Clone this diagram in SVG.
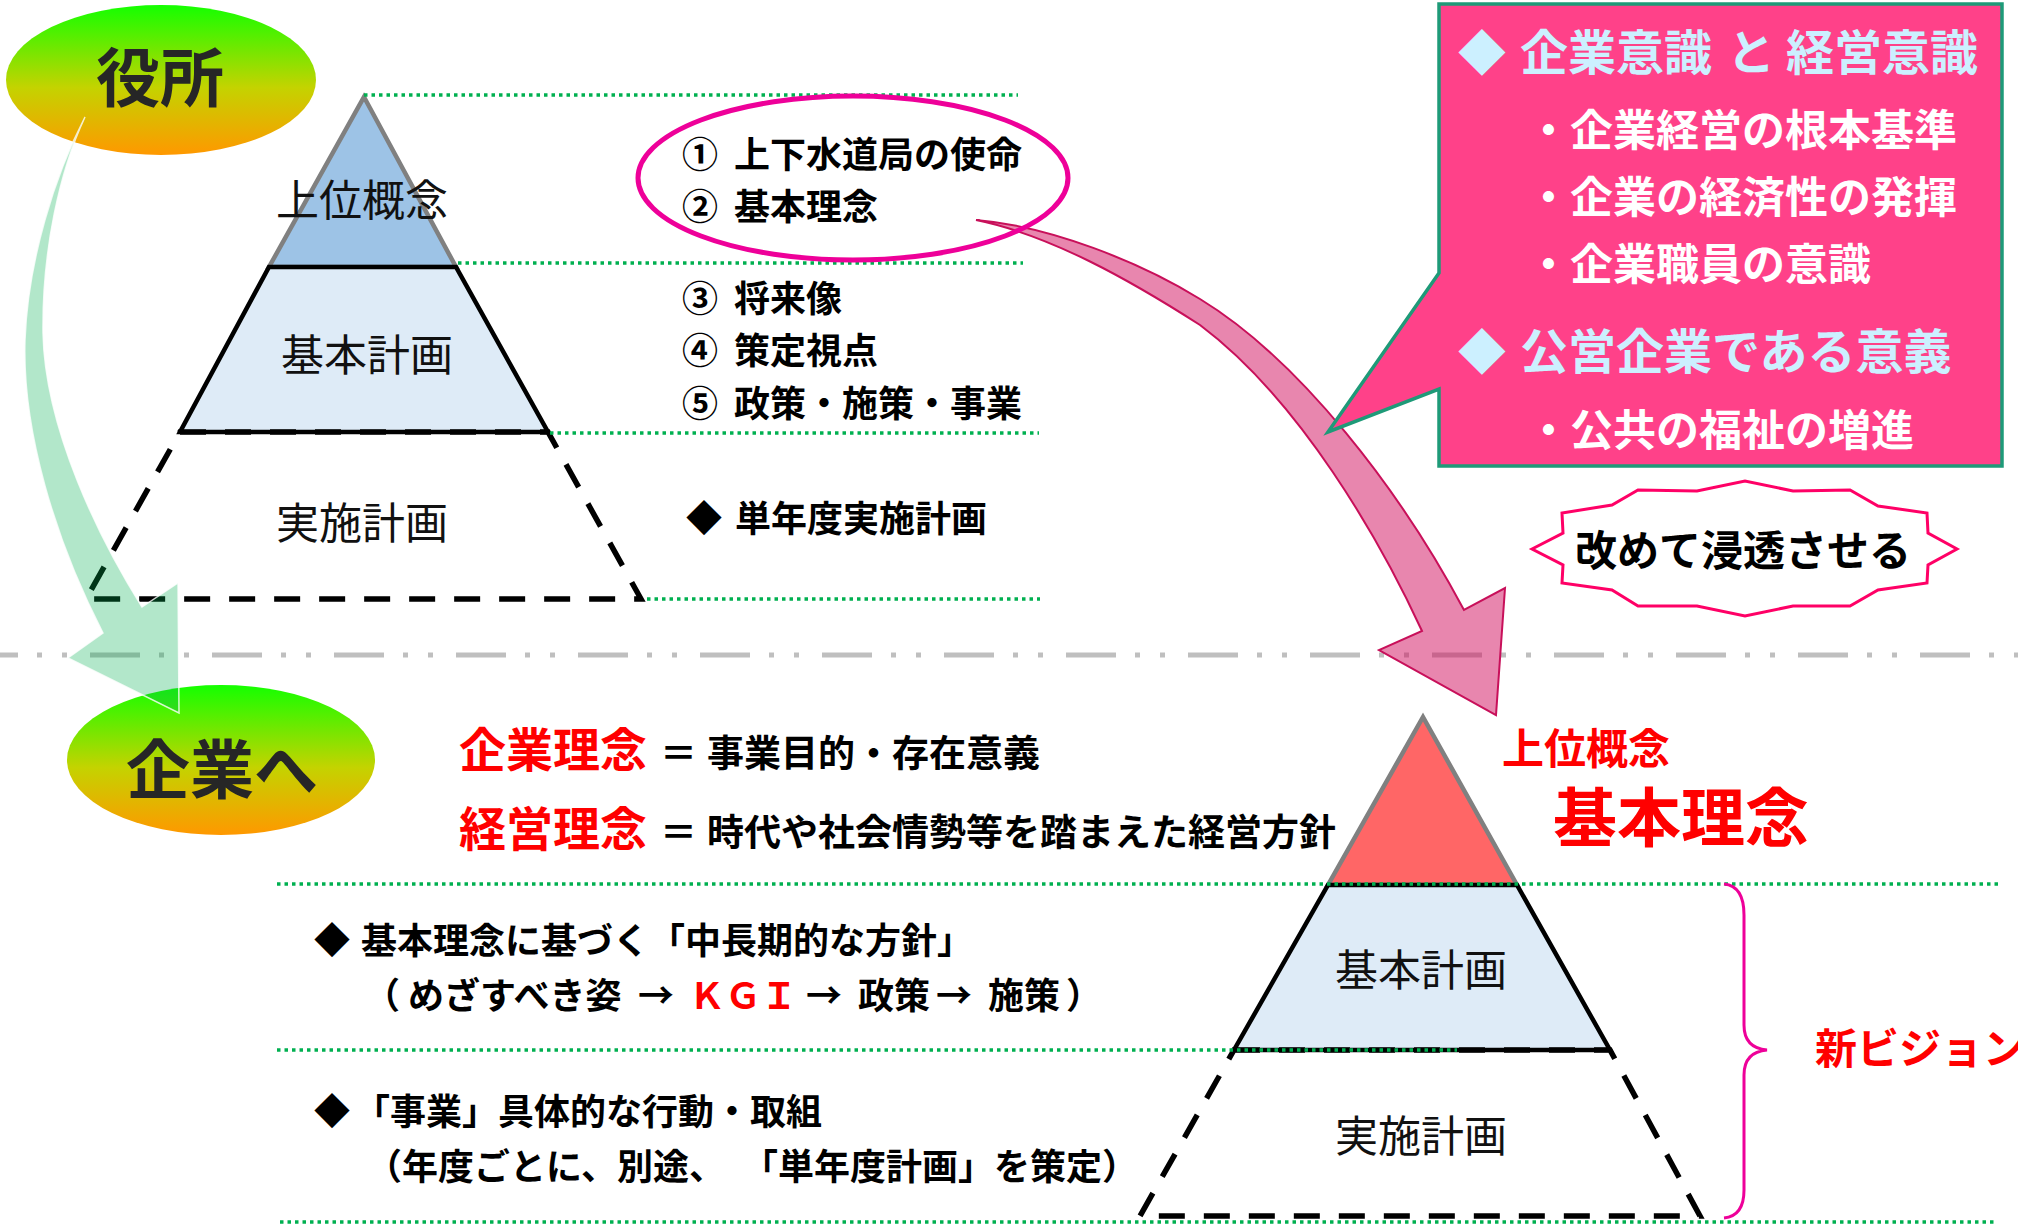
<svg xmlns="http://www.w3.org/2000/svg" width="2018" height="1225" viewBox="0 0 2018 1225">
<defs>
<linearGradient id="gEll" x1="0" y1="0" x2="0" y2="1">
<stop offset="0" stop-color="#14FF00"/>
<stop offset="0.55" stop-color="#C4D300"/>
<stop offset="1" stop-color="#FF9800"/>
</linearGradient>
<style>
.jp{font-family:"Noto Sans CJK JP","Noto Sans CJK SC",sans-serif}
.b{font-weight:700}
.dot{stroke:#00B050;stroke-width:3.5;stroke-dasharray:3.5 4;fill:none}
.tri{stroke:#808080;stroke-width:4.5;stroke-linejoin:miter}
.mid{fill:#DEEBF7;stroke:#000;stroke-width:4.5}
.low{fill:none;stroke:#000;stroke-width:5.5;stroke-dasharray:26 19}
.lbl{font-size:43px;fill:#111;text-anchor:middle}
.li{font-size:36px;fill:#000}
.cb{font-size:48px;fill:#CCF0FF}
.cw{font-size:43px;fill:#FFFFFF}
.red{fill:#FF0000}
</style>
</defs>
<rect width="2018" height="1225" fill="#FFFFFF"/>

<g id="pyramid-top">
<polygon class="tri" points="364,97 456,267 269,267" fill="#9DC3E6"/>
<polygon class="mid" points="269,267 456,267 548,432 180,432"/>
<polygon class="low" points="180,432 548,432 641,599 86,599"/>
<text class="jp lbl" x="362" y="216">上位概念</text>
<text class="jp lbl" x="367" y="371">基本計画</text>
<text class="jp lbl" x="362" y="539">実施計画</text>
</g>

<g id="pyramid-bottom">
<polygon class="tri" points="1423,717 1517,885 1328,885" fill="#FF6666"/>
<polygon class="mid" points="1328,885 1517,885 1610,1050 1234,1050"/>
<polygon class="low" points="1234,1050 1610,1050 1700,1216 1140,1216"/>
<text class="jp lbl" x="1421" y="986">基本計画</text>
<text class="jp lbl" x="1421" y="1152">実施計画</text>
</g>

<g id="guides">
<line class="dot" x1="364" y1="95" x2="1018" y2="95"/>
<line class="dot" x1="458" y1="263" x2="1023" y2="263"/>
<line class="dot" x1="550" y1="433" x2="1039" y2="433"/>
<line class="dot" x1="647" y1="599" x2="1040" y2="599"/>
<line class="dot" x1="277" y1="884" x2="2002" y2="884"/>
<line class="dot" x1="277" y1="1050" x2="1457" y2="1050"/>
<line class="dot" x1="280" y1="1222" x2="1996" y2="1222"/>
<line x1="0" y1="655" x2="2018" y2="655" stroke="#BFBFBF" stroke-width="5" stroke-dasharray="50 19 5 20 5 23" stroke-dashoffset="32"/>
</g>

<g id="yakusho">
<ellipse cx="161" cy="80" rx="155" ry="75" fill="url(#gEll)"/>
<text class="jp b" x="160" y="101" font-size="64" fill="#262626" text-anchor="middle">役所</text>
</g>

<g id="kigyo">
<ellipse cx="221" cy="760" rx="154" ry="75" fill="url(#gEll)"/>
<text class="jp b" x="222" y="793" font-size="64" fill="#262626" text-anchor="middle">企業へ</text>
</g>

<g id="connectors">
<path id="arrow-green" d="M85,117 C55,175 28,260 25,340 C22,430 55,540 103,633 L68,658 L179,713 L178,583 L142,607 C100,540 45,430 43,333 C42,250 60,170 85,117 Z" fill="#00B050" fill-opacity="0.3" stroke="#FFFFFF" stroke-opacity="0.8" stroke-width="1.5"/>
<path id="arrow-pink" d="M976,220 C1050,226 1140,262 1200,299 C1300,360 1400,490 1464,610 L1505,588 L1496,715 L1379,650 L1422,631 C1380,540 1300,400 1200,325 C1130,280 1050,235 976,220 Z" fill="#D10D5D" fill-opacity="0.5" stroke="#C8105A" stroke-width="2"/>
</g>

<g id="mission-list">
<ellipse cx="853" cy="178" rx="215" ry="82" fill="none" stroke="#EE0099" stroke-width="5"/>
<text class="jp b li" y="168"><tspan x="682">①</tspan><tspan x="734">上下水道局の使命</tspan></text>
<text class="jp b li" y="220"><tspan x="682">②</tspan><tspan x="734">基本理念</tspan></text>
<text class="jp b li" y="312"><tspan x="682">③</tspan><tspan x="734">将来像</tspan></text>
<text class="jp b li" y="364"><tspan x="682">④</tspan><tspan x="734">策定視点</tspan></text>
<text class="jp b li" y="417"><tspan x="682">⑤</tspan><tspan x="734">政策・施策・事業</tspan></text>
<text class="jp b li" y="532"><tspan x="686">◆</tspan><tspan x="735">単年度実施計画</tspan></text>
</g>

<g id="callout">
<path d="M1439,4 L2002,4 L2002,466 L1439,466 L1439,389 L1328,432 L1439,273 Z" fill="#FF4189" stroke="#1E9A78" stroke-width="3.5"/>
<text class="jp b cb" y="70"><tspan x="1458">◆</tspan><tspan x="1520">企業意識</tspan><tspan x="1727">と</tspan><tspan x="1786">経営意識</tspan></text>
<text class="jp b cw" x="1527" y="146">・企業経営の根本基準</text>
<text class="jp b cw" x="1527" y="213">・企業の経済性の発揮</text>
<text class="jp b cw" x="1527" y="280">・企業職員の意識</text>
<text class="jp b cb" y="369"><tspan x="1458">◆</tspan><tspan x="1520">公営企業である意義</tspan></text>
<text class="jp b cw" x="1527" y="446">・公共の福祉の増進</text>
</g>

<g id="burst">
<polygon points="1532,549 1563,533 1562,513 1612,505 1638,490 1697,491 1745,481 1793,491 1850,490 1878,506 1927,513 1928,533 1957,549 1928,565 1927,583 1878,590 1850,606 1793,606 1745,616 1697,606 1638,606 1612,590 1562,583 1563,565" fill="#FFFFFF" stroke="#FF0066" stroke-width="3"/>
<text class="jp b" x="1743" y="566" font-size="42" fill="#000" text-anchor="middle">改めて浸透させる</text>
</g>

<g id="philosophy">
<text class="jp b red" x="459" y="767" font-size="47">企業理念</text>
<text class="jp b" y="767" font-size="37" fill="#000"><tspan x="660">＝</tspan><tspan x="707">事業目的・存在意義</tspan></text>
<text class="jp b red" x="459" y="846" font-size="47">経営理念</text>
<text class="jp b" y="846" font-size="37" fill="#000"><tspan x="660">＝</tspan><tspan x="707">時代や社会情勢等を踏まえた経営方針</tspan></text>
</g>

<g id="plan-notes">
<text class="jp b li" y="954"><tspan x="314">◆</tspan><tspan x="361">基本理念に基づく「中長期的な方針」</tspan></text>
<text class="jp b li" y="1009"><tspan x="364">（</tspan><tspan x="408">めざすべき姿</tspan><tspan x="638">→</tspan><tspan x="689" fill="#FF0000">ＫＧＩ</tspan><tspan x="806">→</tspan><tspan x="858">政策</tspan><tspan x="936">→</tspan><tspan x="988">施策</tspan><tspan x="1066">）</tspan></text>
<text class="jp b li" y="1125"><tspan x="314">◆</tspan><tspan x="354">「事業」具体的な行動・取組</tspan></text>
<text class="jp b li" y="1180"><tspan x="366">（年度ごとに、別途、</tspan><tspan x="742">「単年度計画」を策定）</tspan></text>
</g>

<g id="upper-concept">
<text class="jp b red" x="1586" y="764" font-size="42" text-anchor="middle">上位概念</text>
<text class="jp b red" x="1681" y="841" font-size="64" text-anchor="middle">基本理念</text>
</g>

<g id="new-vision">
<path d="M1724,884 Q1744,886 1744,915 L1744,1025 Q1744,1048 1767,1050 Q1744,1052 1744,1075 L1744,1190 Q1744,1216 1724,1218" fill="none" stroke="#EE0099" stroke-width="3"/>
<text class="jp b red" x="1815" y="1064" font-size="42">新ビジョン</text>
</g>
</svg>
